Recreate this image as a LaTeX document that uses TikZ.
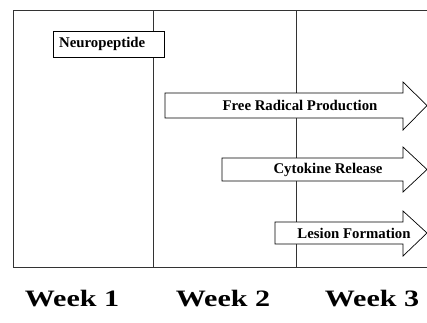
\documentclass[tikz,border=0pt]{standalone}
\usepackage{fontspec}
\setmainfont{Liberation Serif}
\begin{document}
\begin{tikzpicture}[x=1pt,y=-1pt,
  frameline/.style={draw=black!80,line width=0.7pt},
  arrowshape/.style={draw=black,line width=0.7pt,fill=white},
  lbl/.style={inner sep=0pt,font=\bfseries\fontsize{14.8}{15}\selectfont},
  weeklbl/.style={inner sep=0pt,font=\bfseries\fontsize{23.5}{24}\selectfont}]
\useasboundingbox (0,0) rectangle (427,322);
% frame
\draw[frameline] (427,10) -- (13,10) -- (13,267) -- (427,267);
\draw[frameline] (153,10) -- (153,267);
\draw[frameline] (296,10) -- (296,267);
% neuropeptide box
\node[draw=black,line width=0.7pt,fill=white,minimum width=111pt,minimum height=26pt,inner sep=0pt,anchor=north west] (np) at (53,31) {};
\node[lbl,anchor=west] (npt) at (59,44) {Neuropeptide};
% free radical arrow
\draw[arrowshape] (165,93) -- (403,93) -- (403,82) -- (427,105.5) -- (403,130) -- (403,118) -- (165,118) -- cycle;
\node[lbl] (fr) at (300,105.5) {Free Radical Production};
% cytokine arrow
\draw[arrowshape] (222,158) -- (403,158) -- (403,147) -- (427,169.5) -- (403,192) -- (403,181) -- (222,181) -- cycle;
\node[lbl] (cy) at (328,169.5) {Cytokine Release};
% lesion arrow
\draw[arrowshape] (275,222) -- (403,222) -- (403,211) -- (427,233) -- (403,256) -- (403,244) -- (275,244) -- cycle;
\node[lbl] (le) at (354,233) {Lesion Formation};
% week labels
\node[weeklbl] (w1) at (72,299) {\scalebox{1.28}[1]{Week 1}};
\node[weeklbl] (w2) at (223,299) {\scalebox{1.28}[1]{Week 2}};
\node[weeklbl] (w3) at (372,299) {\scalebox{1.28}[1]{Week 3}};
\end{tikzpicture}
\end{document}
